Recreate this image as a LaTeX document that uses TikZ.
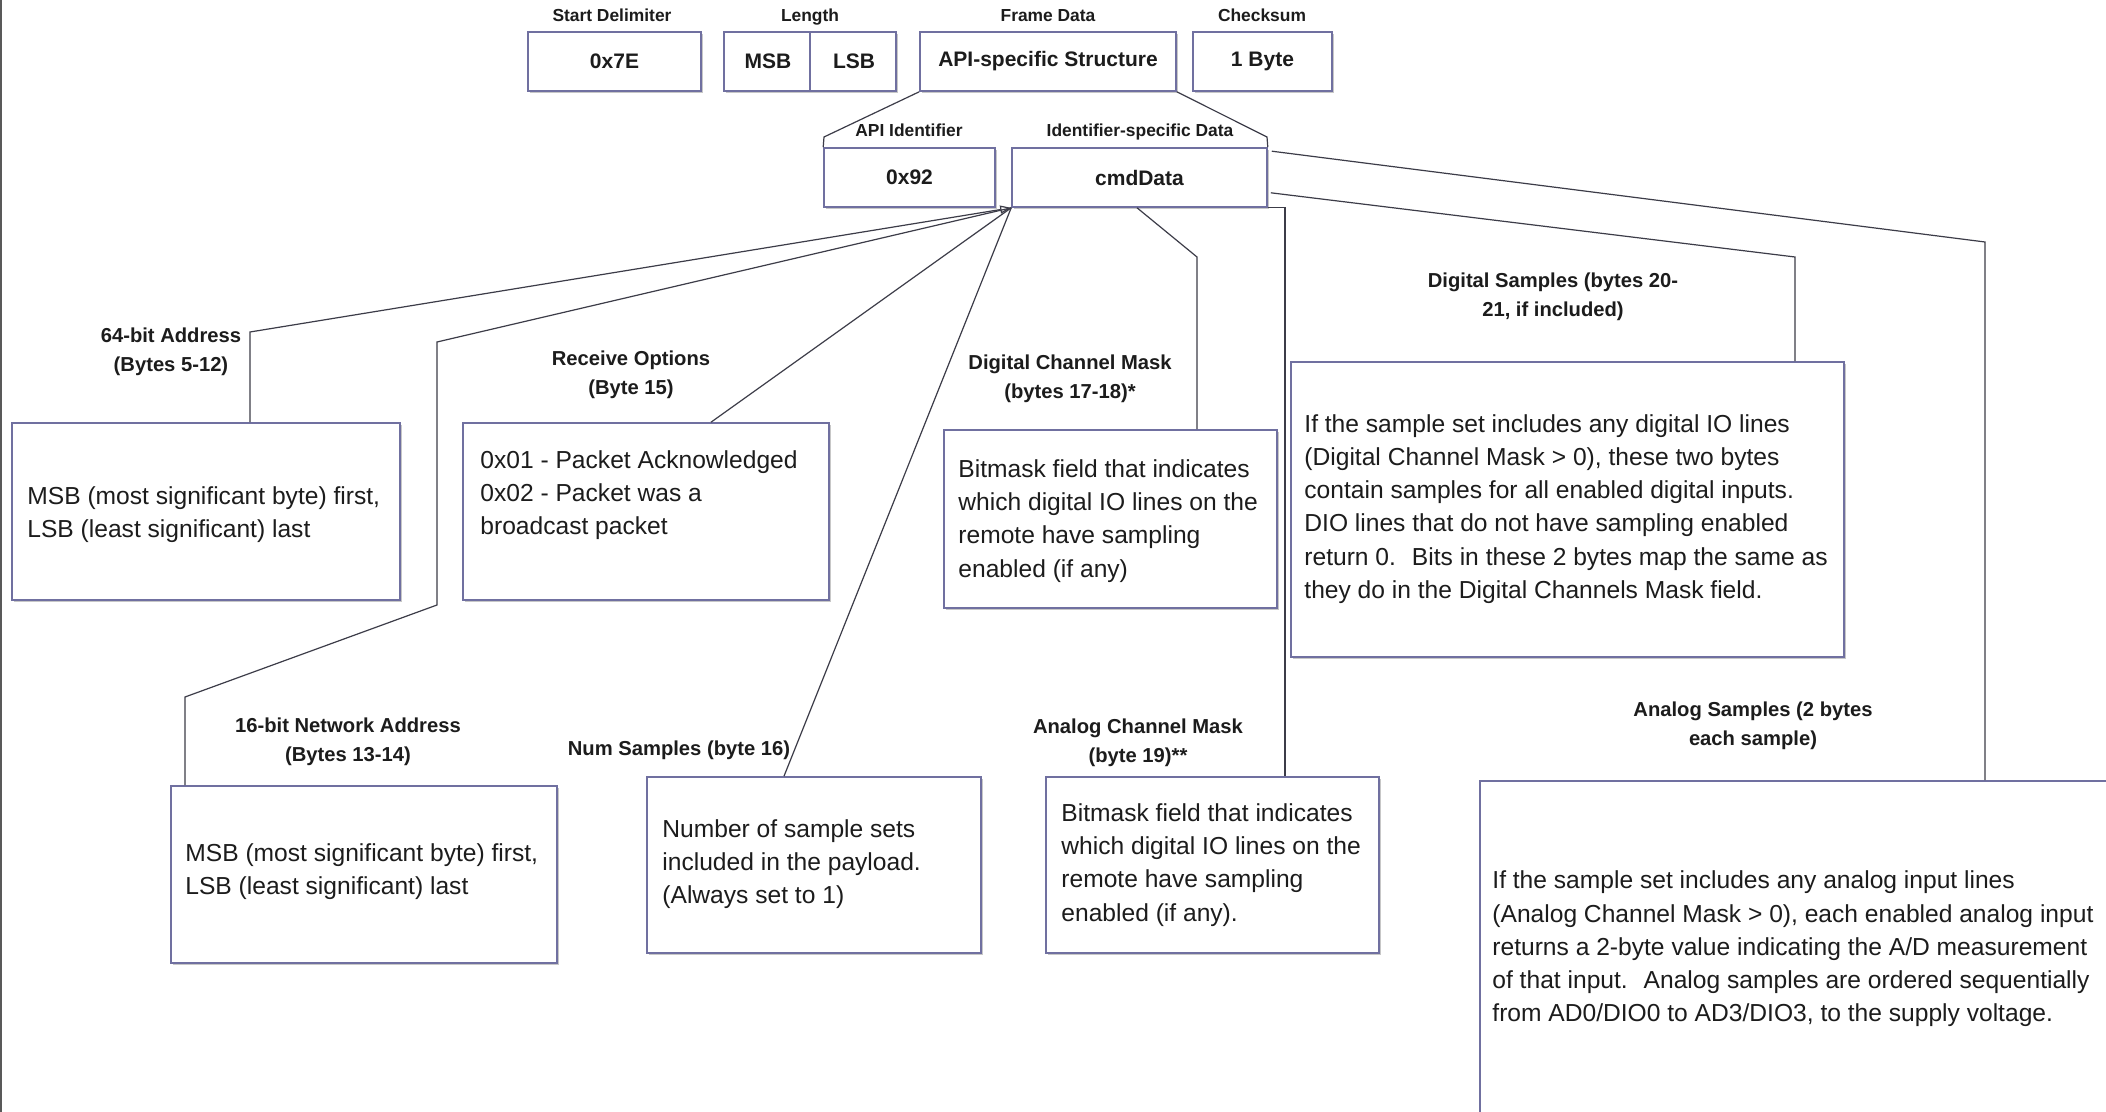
\documentclass[tikz,border=0pt]{standalone}
\usepackage{fontspec}
\setmainfont{Liberation Sans}
\usetikzlibrary{fit,calc,shadows,arrows.meta}
\definecolor{boxline}{RGB}{112,112,160}
\definecolor{conncol}{RGB}{60,60,72}
\definecolor{txt}{RGB}{28,28,28}
\begin{document}
\begin{tikzpicture}[x=0.5pt,y=-0.5pt,
  box/.style={draw=boxline, line width=0.8pt, fill=white, inner sep=0pt,
    drop shadow={shadow xshift=1.2pt,shadow yshift=-1.2pt,opacity=0.22,fill=black}},
  conn/.style={draw=conncol, line width=0.6pt},
  lbl/.style={font=\bfseries\fontsize{10.1}{14.5}\selectfont, align=center, text=txt, inner sep=0pt},
  toplbl/.style={font=\bfseries\fontsize{8.7}{10}\selectfont, text=txt, inner sep=0pt, anchor=base},
  val/.style={font=\bfseries\fontsize{10.5}{12}\selectfont, text=txt, inner sep=0pt},
  body/.style={font=\fontsize{12.3}{16.6}\selectfont, align=left, text=txt, inner sep=0pt, anchor=west}]

\path[use as bounding box, fill=white] (0,0) rectangle (2106,1112);
\clip (0,0) rectangle (2106,1112);

% window edge
\coordinate (edgeT) at (1,0);
\coordinate (edgeB) at (1,1112);
\draw[line width=1.1pt, draw=black!65] (edgeT) -- (edgeB);

% ---- top row ----
\node[box, fit={(528,32)(701,91)}] (sd) {};
\node[val] (sdv) at (sd.center) {0x7E};
\node[box, fit={(724,32)(896,91)}] (len) {};
\draw[draw=boxline, line width=0.8pt] (len.north) -- (len.south);
\node[val] (msb) at ($(len.center)+(-42,0)$) {MSB};
\node[val] (lsb) at ($(len.center)+(44,0)$) {LSB};
\node[box, fit={(920,32)(1176,91)}] (fd) {};
\node[val] (fdv) at (fd.center) {API-specific Structure};
\node[box, fit={(1193,32)(1332,91)}] (cs) {};
\node[val] (csv) at (cs.center) {1 Byte};

\node[toplbl] (sdl) at (612,22) {Start Delimiter};
\node[toplbl] (lenl) at (810,22) {Length};
\node[toplbl] (fdl) at (1048,22) {Frame Data};
\node[toplbl] (csl) at (1262,22) {Checksum};

% ---- second row ----
\node[box, fit={(824,148)(995,207)}] (api) {};
\node[val] (apiv) at (api.center) {0x92};
\node[box, fit={(1012,148)(1267,207)}] (cmd) {};
\node[val] (cmdv) at (cmd.center) {cmdData};
\node[toplbl] (apil) at (909,137) {API Identifier};
\node[toplbl] (cmdl) at (1140,137) {Identifier-specific Data};

\coordinate (tl) at (824,137);
\coordinate (tr) at (1267,137);
\draw[conn] (fd.south west) -- (tl) -- (api.north west);
\draw[conn] (fd.south east) -- (tr) -- (cmd.north east);

% ---- description boxes ----
\node[box, fit={(12,423)(400,600)}] (b64) {};
\node[box, fit={(463,423)(829,600)}] (rcv) {};
\node[box, fit={(944,430)(1277,608)}] (dcm) {};
\node[box, fit={(1291,362)(1844,657)}] (dsb) {};
\node[box, fit={(171,786)(557,963)}] (b16) {};
\node[box, fit={(647,777)(981,953)}] (nsb) {};
\node[box, fit={(1046,777)(1379,953)}] (acm) {};
\node[box, fit={(1480,781)(2130,1130)}] (asb) {};

% ---- connectors ----
\coordinate (k64) at (250,332);
\draw[conn, -{Triangle[open,length=5.5pt,width=4pt]}] (k64 |- b64.north) -- (k64) -- (cmd.south west);

\coordinate (k16a) at (437,342);
\coordinate (k16b) at (437,605);
\coordinate (k16c) at (185,697);
\draw[conn] (cmd.south west) -- (k16a) -- (k16b) -- (k16c) -- (k16c |- b16.north);

\coordinate (krc) at (711,0);
\draw[conn] (cmd.south west) -- (krc |- rcv.north);

\coordinate (kns) at (784,0);
\draw[conn] (cmd.south west) -- (kns |- nsb.north);

\coordinate (kdcm0) at (1137,0);
\coordinate (kdcm) at (1197,257);
\draw[conn] (kdcm0 |- cmd.south) -- (kdcm) -- (kdcm |- dcm.north);

\coordinate (kacm) at (1285,0);
\draw[conn] (cmd.south east) -- (kacm |- cmd.south) -- (kacm |- acm.north);

\coordinate (kds) at (1795,257);
\draw[conn] ($(cmd.south east)+(3,-15)$) -- (kds) -- (kds |- dsb.north);

\coordinate (kas) at (1985,242);
\draw[conn] ($(cmd.north east)+(4,4)$) -- (kas) -- (kas |- asb.north);

% ---- labels ----
\node[lbl] (l64) at (171,352) {64-bit Address\\(Bytes 5-12)};
\node[lbl] (lrc) at (631,375) {Receive Options\\(Byte 15)};
\node[lbl] (ldcm) at (1070,379) {Digital Channel Mask\\(bytes 17-18)*};
\node[lbl] (lds) at (1553,297) {Digital Samples (bytes 20-\\21, if included)};
\node[lbl] (l16) at (348,742) {16-bit Network Address\\(Bytes 13-14)};
\node[lbl] (lns) at (679,750) {Num Samples (byte 16)};
\node[lbl] (lacm) at (1138,743) {Analog Channel Mask\\(byte 19)**};
\node[lbl] (las) at (1753,726) {Analog Samples (2 bytes\\each sample)};

% ---- body texts ----
\node[body] (t64) at (27,515) {MSB (most significant byte) first,\\LSB (least significant) last};
\node[body] (trc) at (480,495) {0x01 - Packet Acknowledged\\0x02 - Packet was a\\broadcast packet};
\node[body] (tdcm) at (958,521) {Bitmask field that indicates\\which digital IO lines on the\\remote have sampling\\enabled (if any)};
\node[body] (tds) at (1304,509) {If the sample set includes any digital IO lines\\(Digital Channel Mask > 0), these two bytes\\contain samples for all enabled digital inputs.\\DIO lines that do not have sampling enabled\\return 0.~ Bits in these 2 bytes map the same as\\they do in the Digital Channels Mask field.};
\node[body] (t16) at (185,872) {MSB (most significant byte) first,\\LSB (least significant) last};
\node[body] (tns) at (662,864) {Number of sample sets\\included in the payload.\\(Always set to 1)};
\node[body] (tacm) at (1061,865) {Bitmask field that indicates\\which digital IO lines on the\\remote have sampling\\enabled (if any).};
\node[body] (tas) at (1492,949) {If the sample set includes any analog input lines\\(Analog Channel Mask > 0), each enabled analog input\\returns a 2-byte value indicating the A/D measurement\\of that input.~ Analog samples are ordered sequentially\\from AD0/DIO0 to AD3/DIO3, to the supply voltage.};
\end{tikzpicture}
\end{document}
